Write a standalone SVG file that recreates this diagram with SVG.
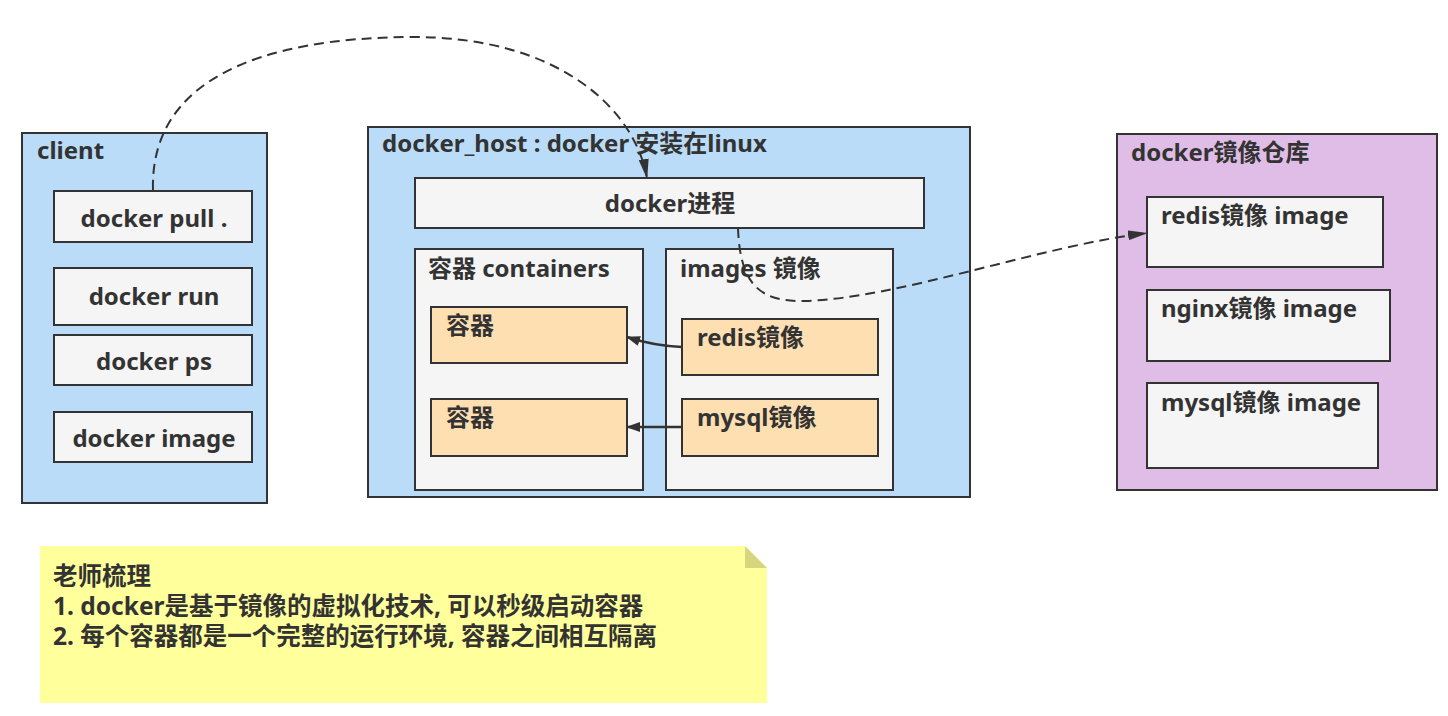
<svg xmlns="http://www.w3.org/2000/svg" width="1448" height="716" viewBox="0 0 1448 716">
<defs>
<style>
text{font-family:"Noto Sans","Noto Sans CJK SC",sans-serif;font-weight:bold;fill:#333;font-size:24px}
.note{font-size:24.5px}
.blue{fill:#badcf8;stroke:#333;stroke-width:2}
.gray{fill:#f5f5f5;stroke:#333;stroke-width:2}
.orange{fill:#fddfb1;stroke:#333;stroke-width:2}
.purple{fill:#e0bde6;stroke:#333;stroke-width:2}
.c{text-anchor:middle}
.dash{fill:none;stroke:#333;stroke-width:2;stroke-dasharray:10 6}
.solid{fill:none;stroke:#333;stroke-width:2.5}
</style>
<marker id="ah" viewBox="0 0 20 10" refX="19" refY="5" markerWidth="20" markerHeight="10" markerUnits="userSpaceOnUse" orient="auto"><path d="M0,0 L20,5 L0,10 z" fill="#333"/></marker>
<marker id="ah2" viewBox="0 0 14 10" refX="13" refY="5" markerWidth="14" markerHeight="10" markerUnits="userSpaceOnUse" orient="auto"><path d="M0,0 L14,5 L0,10 z" fill="#333"/></marker>
</defs>
<rect width="1448" height="716" fill="#fff"/>

<g id="client">
<rect class="blue" x="22" y="133" width="245" height="370"/>
<text x="37" y="159">client</text>
</g>
<g id="docker-pull"><rect class="gray" x="54" y="191" width="198" height="51"/><text class="c" x="154" y="227">docker pull .</text></g>
<g id="docker-run"><rect class="gray" x="54" y="268" width="198" height="57"/><text class="c" x="154" y="305">docker run</text></g>
<g id="docker-ps"><rect class="gray" x="54" y="335" width="198" height="50"/><text class="c" x="154" y="370">docker ps</text></g>
<g id="docker-image"><rect class="gray" x="54" y="412" width="198" height="50"/><text class="c" x="154" y="447">docker image</text></g>

<g id="docker-host">
<rect class="blue" x="368" y="127" width="602" height="370"/>
<text x="382" y="152">docker_host : docker 安装在linux</text>
</g>
<g id="docker-process"><rect class="gray" x="415" y="178" width="509" height="50"/><text class="c" x="670" y="212">docker进程</text></g>
<g id="containers"><rect class="gray" x="415" y="249" width="228" height="241"/><text x="428" y="277">容器 containers</text></g>
<g id="images"><rect class="gray" x="666" y="249" width="227" height="241"/><text x="680" y="277">images 镜像</text></g>
<g id="container1"><rect class="orange" x="431" y="307" width="196" height="56"/><text x="446" y="334">容器</text></g>
<g id="container2"><rect class="orange" x="431" y="399" width="196" height="57"/><text x="446" y="426">容器</text></g>
<g id="redis-img"><rect class="orange" x="682" y="319" width="196" height="56"/><text x="697" y="346">redis镜像</text></g>
<g id="mysql-img"><rect class="orange" x="682" y="399" width="196" height="57"/><text x="697" y="426">mysql镜像</text></g>

<g id="registry">
<rect class="purple" x="1117" y="134" width="320" height="356"/>
<text x="1131" y="161">docker镜像仓库</text>
</g>
<g id="reg-redis"><rect class="gray" x="1147" y="197" width="236" height="70"/><text x="1161" y="224">redis镜像 image</text></g>
<g id="reg-nginx"><rect class="gray" x="1147" y="290" width="243" height="71"/><text x="1161" y="317">nginx镜像 image</text></g>
<g id="reg-mysql"><rect class="gray" x="1147" y="383" width="231" height="85"/><text x="1161" y="411">mysql镜像 image</text></g>

<g id="note">
<path d="M40,546 H745 L767,568 V703 H40 Z" fill="#ffff9c"/>
<path d="M745,546 L767,568 H745 Z" fill="#d6d67f"/>
<text class="note" x="53" y="585">老师梳理</text>
<text class="note" x="53" y="615">1. docker是基于镜像的虚拟化技术, 可以秒级启动容器</text>
<text class="note" x="53" y="645">2. 每个容器都是一个完整的运行环境, 容器之间相互隔离</text>
</g>

<g id="connectors">
<path class="dash" d="M153,190 C150,80 260,38 410,37 C560,36 635,110 647,178" marker-end="url(#ah)"/>
<path class="dash" d="M738,228 C740,285 760,302 805,301 C900,298 1040,246 1147,233" marker-end="url(#ah)"/>
<path class="solid" d="M682,347 C660,346 645,343 627,337" marker-end="url(#ah2)"/>
<path class="solid" d="M682,427 L627,427" marker-end="url(#ah2)"/>
</g>
</svg>
